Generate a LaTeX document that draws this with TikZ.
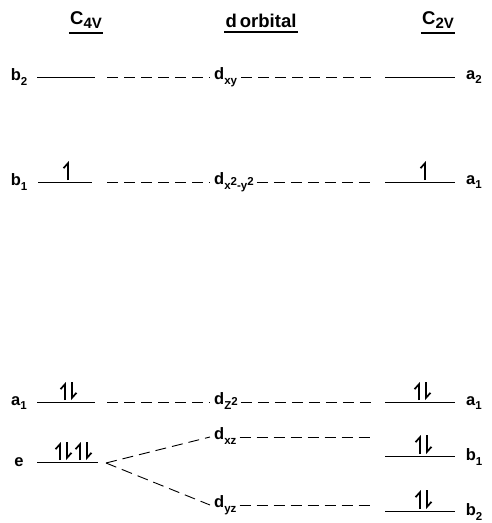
\documentclass[tikz,border=0pt]{standalone}
\usepackage{fontspec}
\setmainfont{Liberation Sans}
\usetikzlibrary{arrows.meta}
% lowered and raised small text for orbital labels
\newcommand{\lowtxt}[1]{\raisebox{-0.5ex}{\fontsize{11.5}{12}\selectfont #1}}
\newcommand{\hitxt}[1]{\raisebox{0.6ex}{\fontsize{11.5}{12}\selectfont #1}}
\begin{document}
\begin{tikzpicture}[x=1pt,y=-1pt,
  lbl/.style={inner sep=0pt,font=\fontsize{16.5}{18}\selectfont\bfseries},
  ttl/.style={inner sep=1pt,font=\fontsize{18.5}{20}\selectfont\bfseries},
  level/.style={line width=0.9pt},
  dashline/.style={line width=0.9pt,dash pattern=on 11pt off 6pt},
  spinup/.style={line width=1.7pt,-{Straight Barb[left,length=5pt,width=9pt]}},
  uline/.style={line width=1.4pt}]
\fill[white] (0,0) rectangle (492,523);
\path[use as bounding box] (0,0) rectangle (492,523);

% column headings
\node[ttl] (hc4) at (86,20) {C\lowtxt{\fontsize{15}{16}\selectfont 4V}};
\node[ttl] (hd) at (261,21) {d\,orbital};
\node[ttl] (hc2) at (438,20) {C\lowtxt{\fontsize{15}{16}\selectfont 2V}};
\foreach \h in {hc4,hd,hc2}
  \draw[uline] ([yshift=-3pt]\h.south west) -- ([yshift=-3pt]\h.south east);

% symmetry labels, left column
\node[lbl] (lb2) at (19,77) {b\lowtxt{2}};
\node[lbl] (lb1) at (19,182) {b\lowtxt{1}};
\node[lbl] (la1) at (19,403) {a\lowtxt{1}};
\node[lbl] (le)  at (19,462) {e};

% symmetry labels, right column
\node[lbl] (ra2) at (474,77) {a\lowtxt{2}};
\node[lbl] (ra1) at (474,182) {a\lowtxt{1}};
\node[lbl] (ra1b) at (474,403) {a\lowtxt{1}};
\node[lbl] (rb1) at (474,457) {b\lowtxt{1}};
\node[lbl] (rb2) at (474,512) {b\lowtxt{2}};

% d orbitals
\node[lbl,anchor=mid west] (dxy) at (214,77) {d\lowtxt{xy}};
\node[lbl,anchor=mid west] (dx2y2) at (214,182) {d\lowtxt{x\hitxt{2}-y\hitxt{2}}};
\node[lbl,anchor=mid west] (dz2) at (214,402) {d\lowtxt{Z\hitxt{2}}};
\node[lbl,anchor=mid west] (dxz) at (214,437) {d\lowtxt{xz}};
\node[lbl,anchor=mid west] (dyz) at (214,505) {d\lowtxt{yz}};

% level end points
\coordinate (l1a) at (37,77);  \coordinate (l1b) at (95,77);
\coordinate (l2a) at (38,182); \coordinate (l2b) at (92,182);
\coordinate (l3a) at (37,402); \coordinate (l3b) at (95,402);
\coordinate (l4a) at (37,462); \coordinate (l4b) at (98,462);
\coordinate (r1a) at (385,77);  \coordinate (r1b) at (455,77);
\coordinate (r2a) at (385,182); \coordinate (r2b) at (455,182);
\coordinate (r3a) at (385,402); \coordinate (r3b) at (455,402);
\coordinate (r4a) at (385,456); \coordinate (r4b) at (455,456);
\coordinate (r5a) at (385,511); \coordinate (r5b) at (455,511);

% energy levels
\foreach \a/\b in {l1a/l1b,l2a/l2b,l3a/l3b,l4a/l4b,r1a/r1b,r2a/r2b,r3a/r3b,r4a/r4b,r5a/r5b}
  \draw[level] (\a) -- (\b);

% correlation lines
\coordinate (c1) at (107,77);  \coordinate (c1r) at (372,77);
\coordinate (c2) at (107,182); \coordinate (c2r) at (372,182);
\coordinate (c3) at (107,402); \coordinate (c3r) at (372,402);
\coordinate (ce) at (106,463);
\coordinate (c4r) at (372,437); \coordinate (c5r) at (372,505);
\draw[dashline] (c1) -- ([xshift=-4pt]dxy.mid west);
\draw[dashline] ([xshift=4pt]dxy.mid east) -- (c1r);
\draw[dashline] (c2) -- ([xshift=-4pt]dx2y2.mid west);
\draw[dashline] ([xshift=3pt]dx2y2.mid east) -- (c2r);
\draw[dashline] (c3) -- ([xshift=-4pt]dz2.mid west);
\draw[dashline] ([xshift=3pt]dz2.mid east) -- (c3r);
\draw[dashline] (ce) -- ([xshift=-4pt]dxz.mid west);
\draw[dashline] (ce) -- ([xshift=-4pt]dyz.mid west);
\draw[dashline] ([xshift=3pt]dxz.mid east) -- (c4r);
\draw[dashline] ([xshift=3pt]dyz.mid east) -- (c5r);

% electrons
\draw[spinup] (68,180) -- (68,161);
\draw[spinup] (425,180) -- (425,161);
\draw[spinup] (65,400) -- (65,382);  \draw[spinup] (72,382) -- (72,400);
\draw[spinup] (419,400) -- (419,382); \draw[spinup] (426,382) -- (426,400);
\draw[spinup] (60,460) -- (60,442);  \draw[spinup] (67,442) -- (67,460);
\draw[spinup] (80,460) -- (80,442);  \draw[spinup] (87,442) -- (87,460);
\draw[spinup] (420,454) -- (420,435); \draw[spinup] (427,435) -- (427,454);
\draw[spinup] (420,509) -- (420,490); \draw[spinup] (427,490) -- (427,509);
\end{tikzpicture}
\end{document}
